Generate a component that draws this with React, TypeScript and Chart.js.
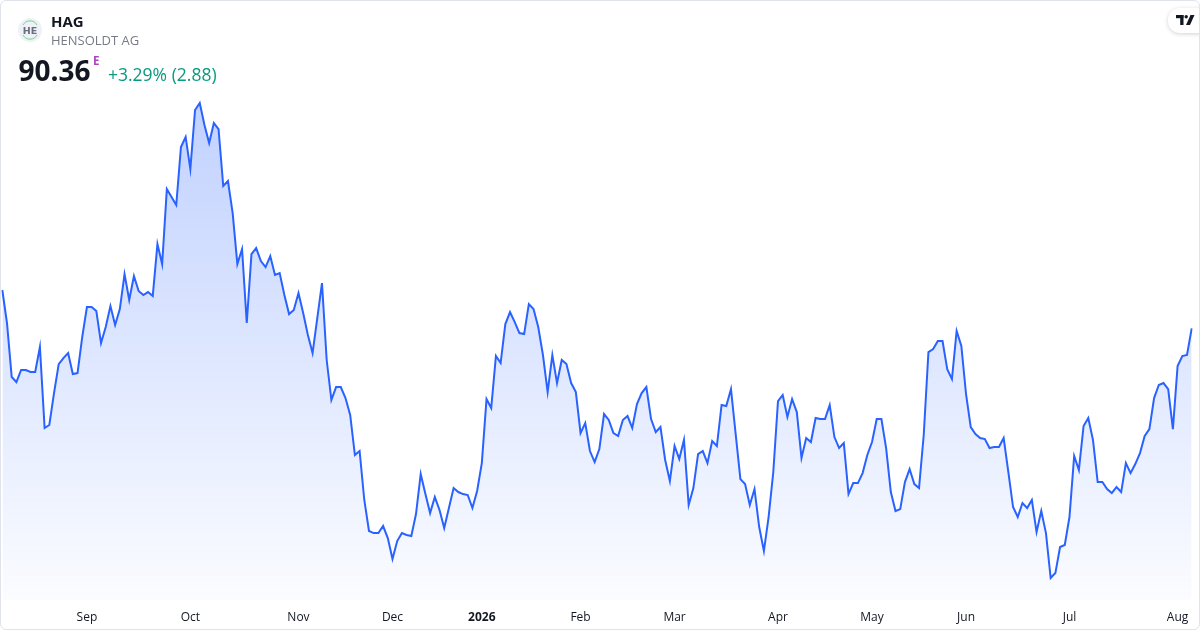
import React, { useEffect, useRef } from "react";
import { Chart, registerables } from "chart.js";

Chart.register(...registerables);

// Daily closes of HENSOLDT AG (HAG)
const prices: number[] = [
  94.5, 90.93, 85.1, 84.56, 85.86, 85.86, 85.64, 85.64, 88.34, 79.59,
  79.92, 83.37, 86.5, 87.15, 87.69, 85.42, 85.53, 89.42, 92.66, 92.66,
  92.23, 88.77, 90.5, 92.77, 90.72, 92.44, 96.22, 93.42, 96.01, 94.39,
  93.96, 94.28, 93.85, 99.46, 97.3, 105.4, 104.54, 103.68, 109.94, 111.02,
  107.56, 113.94, 114.69, 112.32, 110.37, 112.53, 111.88, 105.73, 106.27, 102.81,
  97.3, 98.92, 90.93, 98.38, 99.03, 97.63, 96.98, 98.17, 96.12, 96.33,
  93.96, 91.9, 92.34, 94.17, 92.01, 89.64, 87.69, 91.47, 95.25, 86.94,
  82.62, 84.02, 84.02, 82.83, 81.0, 76.68, 77.11, 71.82, 68.47, 68.25,
  68.25, 69.01, 67.71, 65.44, 67.39, 68.25, 68.04, 67.93, 70.3, 74.62,
  72.46, 70.41, 72.14, 70.74, 68.79, 70.95, 73.11, 72.68, 72.46, 72.36,
  70.95, 72.79, 75.81, 82.72, 81.75, 87.37, 86.61, 90.82, 92.12, 91.04,
  89.85, 89.74, 92.98, 92.44, 90.5, 87.48, 83.48, 87.48, 84.45, 86.94,
  86.5, 84.45, 83.48, 79.05, 80.13, 77.11, 75.92, 77.32, 81.1, 80.46,
  79.05, 78.73, 80.46, 80.89, 79.59, 82.18, 83.37, 84.02, 80.56, 79.16,
  79.7, 76.14, 73.87, 77.65, 76.24, 78.3, 71.28, 73.11, 76.78, 77.11,
  75.81, 78.19, 77.65, 82.08, 81.97, 83.8, 78.94, 74.08, 73.54, 71.28,
  73.0, 68.9, 66.31, 69.98, 74.84, 82.51, 83.16, 80.78, 82.72, 81.32,
  76.35, 78.51, 78.08, 80.67, 80.56, 80.56, 82.08, 78.62, 77.43, 77.97,
  72.46, 73.65, 73.65, 74.73, 76.68, 78.08, 80.56, 80.56, 77.43, 72.68,
  70.63, 70.84, 73.76, 75.16, 73.54, 73.11, 78.84, 87.8, 88.12, 88.99,
  88.99, 85.96, 84.88, 90.07, 88.45, 83.26, 79.7, 78.94, 78.51, 78.4,
  77.43, 77.54, 77.54, 78.51, 74.84, 71.06, 69.98, 71.49, 70.95, 71.82,
  68.36, 70.63, 68.25, 63.39, 63.93, 66.74, 66.96, 69.98, 76.57, 75.06,
  79.81, 80.67, 78.3, 73.76, 73.76, 73.0, 72.57, 73.22, 72.68, 75.81,
  74.73, 75.7, 76.89, 78.73, 79.48, 82.83, 84.24, 84.45, 83.8, 79.48,
  86.29, 87.37, 87.48, 90.36,
];

// Trading-day index where each month starts, and its axis label
const tickIndices: number[] = [18, 40, 63, 83, 102, 123, 143, 165, 185, 205, 227, 250];
const tickLabels: string[] = ["Sep", "Oct", "Nov", "Dec", "2026", "Feb", "Mar", "Apr", "May", "Jun", "Jul", "Aug"];

const priceMin = 61.02;
const priceMax = 125.82;

const FONT = "'Open Sans', 'Noto Sans', sans-serif";

export default function App() {
  const canvasRef = useRef<HTMLCanvasElement | null>(null);

  useEffect(() => {
    document.body.style.margin = "0";
    const canvas = canvasRef.current;
    if (!canvas) return;
    const categories = prices.map((_, i) => {
      const k = tickIndices.indexOf(i);
      return k >= 0 ? tickLabels[k] : "";
    });
    const chart = new Chart(canvas, {
      type: "line",
      data: {
        labels: categories,
        datasets: [
          {
            data: prices,
            borderColor: "#2962ff",
            borderWidth: 2,
            pointRadius: 0,
            pointHoverRadius: 0,
            tension: 0,
            fill: "start",
            backgroundColor: (ctx: any) => {
              const { chart } = ctx;
              const area = chart.chartArea;
              if (!area) return "rgba(41,98,255,0.15)";
              const g = chart.ctx.createLinearGradient(0, 100, 0, area.bottom);
              g.addColorStop(0, "rgba(41,98,255,0.29)");
              g.addColorStop(1, "rgba(41,98,255,0.02)");
              return g;
            },
          },
        ],
      },
      options: {
        animation: false,
        responsive: true,
        maintainAspectRatio: false,
        layout: { padding: { left: 2.3, right: 8.3, top: 0, bottom: 0 } },
        plugins: { legend: { display: false }, tooltip: { enabled: false } },
        scales: {
          x: {
            type: "category",
            offset: false,
            grid: { display: false, drawTicks: true, tickLength: 10 },
            border: { display: false },
            afterFit: (scale: any) => {
              scale.height = 30;
            },
            ticks: {
              autoSkip: false,
              maxRotation: 0,
              minRotation: 0,
              padding: 0,
              color: "#131722",
              font: (ctx: any) => ({
                family: FONT,
                size: 12,
                weight: ctx.tick && ctx.tick.label === "2026" ? "bold" : "normal",
              }),
            },
          },
          y: {
            display: false,
            min: priceMin,
            max: priceMax,
          },
        },
      },
    });
    return () => chart.destroy();
  }, []);

  const abs: React.CSSProperties = { position: "absolute", whiteSpace: "nowrap", fontFamily: FONT };

  return (
    <div style={{ position: "fixed", left: 0, top: 0, width: 1200, height: 630, background: "#ffffff", overflow: "hidden" }}>
      <div style={{ position: "absolute", left: 0, top: 0, width: 1200, height: 630 }}>
        <canvas ref={canvasRef} />
      </div>
      {/* header */}
      <svg style={{ position: "absolute", left: 18, top: 18 }} width={24} height={24} viewBox="0 0 24 24">
        <circle cx={12} cy={12} r={12} fill="#eef1f8" />
        <path d="M5 7 A8 8 0 0 1 19 7" stroke="#7ccf8c" strokeWidth={1} fill="none" />
        <path d="M5 17 A8 8 0 0 0 19 17" stroke="#7ccf8c" strokeWidth={1} fill="none" />
        <text x={12} y={15.5} textAnchor="middle" fontSize={9.5} fontWeight={700} fill="#6b6f7a" fontFamily="DejaVu Sans, sans-serif">HE</text>
      </svg>
      <div style={{ ...abs, left: 51, top: 12, fontSize: 15, lineHeight: "18px", fontWeight: 700, color: "#131722" }}>HAG</div>
      <div style={{ ...abs, left: 51, top: 32, fontSize: 13, lineHeight: "16px", color: "#787b86" }}>HENSOLDT AG</div>
      <div style={{ ...abs, left: 18.5, top: 53.8, fontSize: 28, lineHeight: "32px", fontWeight: 700, color: "#131722" }}>90.36</div>
      <div style={{ ...abs, left: 93, top: 55, fontSize: 11.5, lineHeight: "12px", fontWeight: 700, color: "#ab47bc" }}>E</div>
      <div style={{ ...abs, left: 108, top: 64, fontSize: 17.5, lineHeight: "20px", color: "#089981" }}>+3.29% (2.88)</div>
      {/* TradingView badge */}
      <div
        style={{
          position: "absolute",
          left: 1168,
          top: 8,
          width: 44,
          height: 25,
          borderRadius: 12,
          background: "#ffffff",
          boxShadow: "0 1px 4px rgba(0,0,0,0.18)",
        }}
      >
        <svg style={{ position: "absolute", left: 8, top: 7 }} width={19} height={11} viewBox="0 0 19 11">
          <rect x={0} y={0} width={7.5} height={3.2} fill="#131722" />
          <rect x={4.2} y={0} width={3.3} height={10} fill="#131722" />
          <circle cx={10.2} cy={1.7} r={1.7} fill="#131722" />
          <polygon points="14.5,0 18.5,0 14,10 10,10" fill="#131722" />
        </svg>
      </div>
      {/* frame */}
      <div
        style={{
          position: "absolute",
          left: 0,
          top: 0,
          width: 1200,
          height: 630,
          boxSizing: "border-box",
          border: "1px solid #e0e3eb",
          borderRadius: 6,
          pointerEvents: "none",
        }}
      />
    </div>
  );
}
